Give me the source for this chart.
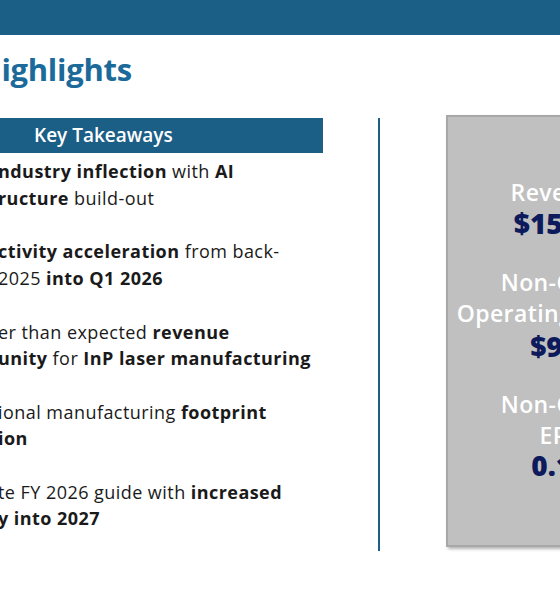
<!DOCTYPE html>
<html lang="en">
<head>
<meta charset="UTF-8">
<title>Highlights</title>
<script src="https://cdn.jsdelivr.net/npm/chart.js"></script>
<style>
  body { margin:0; width:560px; height:600px; overflow:hidden; background:#fff; position:relative; font-family:"Open Sans", Lato, sans-serif; }
  .top { position:absolute; left:0; top:0; width:560px; height:35px; background:#1b5e86; }
  .title { position:absolute; left:-22px; top:48px; font-size:31px; font-weight:700; color:#1b6a9a; letter-spacing:-0.3px; }
  .kt { position:absolute; left:0; top:118px; width:323px; height:35px; background:#1b5e86; color:#fff; font-size:19px; font-weight:600; line-height:35px; padding-left:34px; box-sizing:border-box; }
  .line { position:absolute; left:-2px; font-size:18px; letter-spacing:0.45px; color:#1a1a1a; white-space:nowrap; line-height:27px; }
  .vr { position:absolute; left:378px; top:118px; width:2px; height:433px; background:#1b5e86; }
  .box { position:absolute; left:446px; top:115px; width:140px; height:428px; background:#c0c0c0; border:2px solid #a8a8a8; box-shadow:2px 2px 3px rgba(0,0,0,0.3); }
  .bt { position:absolute; left:360px; width:400px; text-align:center; white-space:nowrap; }
  .lab { color:#fff; font-size:23px; font-weight:600; letter-spacing:0.4px; }
  .val { color:#0d1a5c; font-size:28px; font-weight:800; }
</style>
</head>
<body>
<div class="top"></div>
<div class="title">Highlights</div>
<div class="kt">Key Takeaways</div>
<div id="bullets"></div>
<div class="vr"></div>
<div class="box"></div>
<div id="metrics"></div>
<script>
// text shown on the slide (left side, clipped at the page edge)
const bulletLines = [
  ["<b>ndustry inflection</b> with <b>AI</b>", 158],
  ["<b>ructure</b> build-out", 185],
  ["<b>ctivity acceleration</b> from back-", 238],
  ["2025 <b>into Q1 2026</b>", 265],
  ["er than expected <b>revenue</b>", 319],
  ["<b>unity</b> for <b>InP laser manufacturing</b>", 345],
  ["ional manufacturing <b>footprint</b>", 399],
  ["<b>ion</b>", 425],
  ["te FY 2026 guide with <b>increased</b>", 479],
  ["<b>y into 2027</b>", 505]
];
const metricLabels = [["Revenue", 176], ["Non-GAAP", 266], ["Operating Income", 297], ["Non-GAAP", 388], ["EPS", 419]];
const metricValues = [["$154M", 204], ["$9M", 327], ["0.14", 446]];

const b = document.getElementById('bullets');
bulletLines.forEach(([t, y]) => {
  const d = document.createElement('div');
  d.className = 'line'; d.style.top = y + 'px'; d.innerHTML = t;
  b.appendChild(d);
});
const m = document.getElementById('metrics');
metricLabels.forEach(([t, y]) => {
  const d = document.createElement('div');
  d.className = 'bt lab'; d.style.top = y + 'px'; d.textContent = t;
  m.appendChild(d);
});
metricValues.forEach(([t, y]) => {
  const d = document.createElement('div');
  d.className = 'bt val'; d.style.top = y + 'px'; d.textContent = t;
  m.appendChild(d);
});
</script>
</body>
</html>
